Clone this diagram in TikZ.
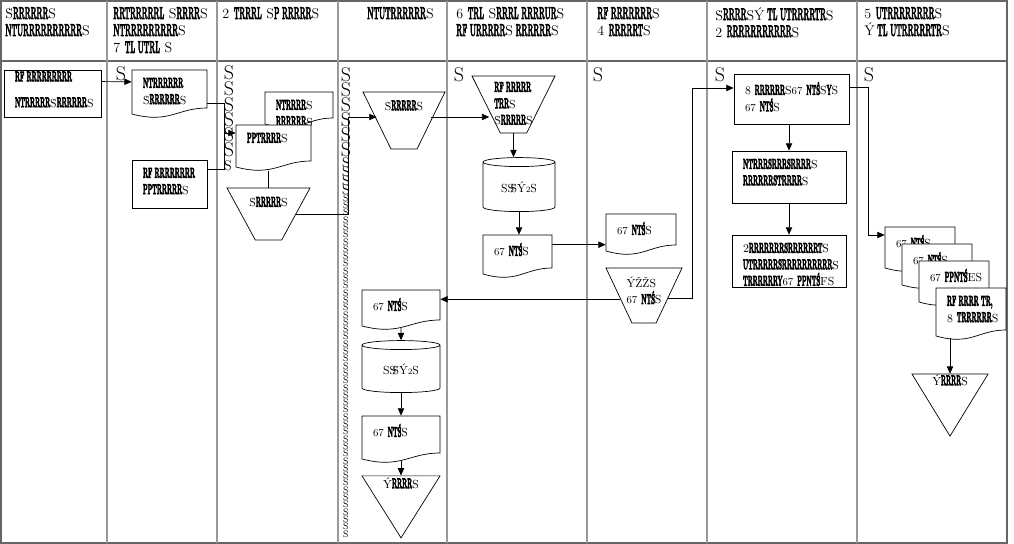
\documentclass[tikz,border=0pt]{standalone}
\usepackage{graphicx}
\usetikzlibrary{shapes.geometric,arrows.meta,calc}

\newcommand\g[1]{\scalebox{0.5}[1.2]{\special{pdf:literal direct 2 Tr 0.6 w}\bfseries #1\special{pdf:literal direct 0 Tr}}}
\newcommand\px{0.03cm}
\newcommand\nodefont{\fontsize{10}{14}\selectfont}
\newcommand\headfont{\fontsize{12}{14.5}\selectfont}
% document shape: name, centre x, centre y, width, height, text
\newcommand\docnode[6]{%
  \draw[fill=white] (#2-#4/2,#3-#5/2) -- (#2+#4/2,#3-#5/2) -- (#2+#4/2,#3+#5/2-10)
    .. controls (#2+#4/2-0.4*#4,#3+#5/2-10) and (#2-#4/2+0.5*#4,#3+#5/2+6) .. (#2-#4/2,#3+#5/2-4) -- cycle;
  \node[docbox, minimum width=#4*\px, minimum height=#5*\px, tl={#6}] (#1) at (#2,#3) {};}

\begin{document}
\begin{tikzpicture}[x=0.03cm, y=-0.03cm, line width=0.6pt,
  lane/.style={draw=black!40, line width=0.9pt},
  frame/.style={draw=black!60, line width=0.9pt},
  arr/.style={-{Triangle[length=0.22cm,width=0.19cm]}},
  box/.style={draw, rectangle, inner sep=0pt},
  docbox/.style={rectangle, inner sep=0pt},
  trap/.style={draw, trapezium, trapezium angle=75, shape border rotate=180, trapezium stretches=true, inner sep=2pt},
  cyl/.style={draw, cylinder, shape border rotate=90, aspect=0.25, inner sep=0pt, font=\nodefont},
  tri/.style={draw, isosceles triangle, isosceles triangle stretches, shape border rotate=270, inner sep=2pt},
  tl/.style={label={[anchor=north west, inner sep=0pt, align=left, font=\nodefont, xshift=0.33cm, yshift=-0.24cm]north west:{#1}}},
  tx/.style 2 args={label={[inner sep=0pt, align=left, font=\nodefont, yshift=#1*\px]center:{#2}}},
  head/.style={anchor=north west, inner sep=0pt, align=left, font=\headfont},
  bigS/.style={inner sep=0pt, font=\fontsize{17}{17}\selectfont},
  midS/.style={inner sep=0pt, font=\fontsize{12}{12}\selectfont},
  smallS/.style={inner sep=0pt, font=\fontsize{8}{8}\selectfont},
]
\useasboundingbox (0,0) rectangle (1014,544);

% lanes
\draw[frame] (1,1) rectangle (1007,543);
\draw[frame] (1,61) -- (1007,61);
\foreach \x in {107,217,338,447,587,707,857}
  \draw[lane] (\x,1) -- (\x,543);

% lane headings
\node[head] (h1) at (5,7) {\.S\g{RRRRRR}S\\\g{NTURRRRRRRRRR}S};
\node[head] (h2) at (113,7) {\g{RRTRRRRRL} S\g{RRRR}S\\\g{NTRRRRRRRRR}S\\7 \g{TL UTRL} S};
\node[head] (h3) at (222,7) {2 \g{TRRRL} S\g{P RRRRR}S};
\node[head] (h4) at (367,7) {\g{NTUTRRRRRR}S};
\node[head] (h5) at (456,7) {6 \g{TRL} S\g{RRRL RRRRUR}S\\\g{RF URRRRR}S\g{ RRRRRR}S};
\node[head] (h6) at (597,7) {\g{RF RRRRRRR}S\\4 \g{RRRRRT}S};
\node[head] (h7) at (715,7) {\.S\g{RRRR}S\'Y\g{ TL UTRRRRTR}S\\2 \g{RRRRRRRRRRR}S};
\node[head] (h8) at (864,7) {5 \g{UTRRRRRRRR}S\\\'Y\g{ TL UTRRRRRTR}S};

% stray marks
\node[bigS] (m2) at (121,74) {S};
\node[bigS] (m5) at (459,75) {S};
\node[bigS] (m6) at (598,75) {S};
\node[bigS] (m7) at (720,75) {S};
\node[bigS] (m8) at (869,75) {S};
\foreach \y [count=\i] in {73,89,105,120,135,150}
  \node[bigS] (sc\i) at (229,\y) {S};
\node[midS] (sc7) at (228,166) {S};
\foreach \y [count=\i] in {75,90,105,120,135,150}
  \node[bigS] (sd\i) at (346,\y) {S};
\foreach \y [count=\i] in {163,172,181,190}
  \node[midS] (se\i) at (346,\y) {S};
\foreach \i in {0,...,46}
  \node[smallS] (sf\i) at (346,198+7.3*\i) {S};

% lane 1 and 2
\node[box, minimum width=97*\px, minimum height=47*\px,
  label={[anchor=north west, inner sep=0pt, align=left, font=\nodefont, xshift=0.33cm, yshift=-0.05cm]north west:{\g{RF RRRRRRRRR}\\[8pt]\g{NTRRRRR}\.S\g{RRRRRR}S}}] (b1) at (52.5,93.5) {};
\docnode{d1}{169.5}{94}{75}{48}{\g{NTRRRRRR}\\\.S\g{RRRRRR}S}
\node[box, minimum width=75*\px, minimum height=48*\px, tl={\g{RF RRRRRRRR}\\\g{PPTRRRRR}S}] (b2) at (169.5,184) {};

% lane 3
\docnode{d2}{299}{110}{68}{36}{\g{NTRRRR}S\\\g{RRRRRR}S}
\docnode{d3}{273.5}{148}{75}{46}{\g{PPTRRRR}S}
\node[trap, minimum width=83*\px, minimum height=52*\px, tx={12}{\.S\g{RRRRR}S}] (t1) at (268.5,214) {\strut};

% lane 4
\node[trap, minimum width=82*\px, minimum height=57*\px, tx={15}{\.S\g{RRRRR}S}] (t2) at (404,120.5) {\strut};
\docnode{d6}{401}{310}{78}{40}{{\small 67} \g{NT\'S}S}
\node[cyl, minimum width=78*\px, minimum height=52*\px] (c2) at (401,369) {SS\kern-3pt\.S\'Y{\scriptsize 2}S};
\docnode{d7}{401}{439.5}{78}{47}{{\small 67} \g{NT\'S}S}
\node[tri, minimum width=78*\px, minimum height=62*\px, tx={16}{\'Y\g{RRRR}S}] (v1) at (401,499) {\strut};

% lane 5
\node[trap, minimum width=83*\px, minimum height=57*\px, tx={1}{\g{RF RRRRR}\\\g{TRR}S\\\.S\g{RRRRR}S}] (t3) at (513.5,104.5) {\strut};
\node[cyl, minimum width=72*\px, minimum height=54*\px] (c1) at (519,187) {SS\kern-3pt\.S\'Y{\scriptsize 2}S};
\docnode{d4}{517.5}{256.5}{69}{43}{{\small 67} \g{NT\'S}S}

% lane 6
\docnode{d5}{641}{234.5}{70}{41}{{\small 67} \g{NT\'S}S}
\node[trap, minimum width=76*\px, minimum height=55*\px, tx={5}{\'Y\v{Z}\v{Z}S\\{\small 67} \g{NT\'S}S}] (t4) at (644,295.5) {\strut};

% lane 7
\node[box, minimum width=115*\px, minimum height=50*\px, tl={8 \g{RRRRRR}S{\small 67} \g{NT\'S}S\g{Y}S\\{\small 67} \g{NT\'S}S}] (r1) at (791.5,99) {};
\node[box, minimum width=114*\px, minimum height=52*\px, tl={\g{NTRRRSRRRSRRRR}S\\\g{RRRRRRSTRRRR}S}] (r2) at (789,177) {};
\node[box, minimum width=114*\px, minimum height=52*\px, tl={2\g{RRRRRRRSRRRRRRT}S\\\g{UTRRRRRSRRRRRRRRRR}S\\\g{TRRRRRRY}{\small 67} \g{PPNT\'S}FS}] (r3) at (789,261) {};

% lane 8
\docnode{s1}{920}{249.5}{70}{45}{{\small 67} \g{NT\'S}S}
\docnode{s2}{937}{266.5}{70}{45}{{\small 67} \g{NT\'S}S}
\docnode{s3}{954}{283.5}{70}{45}{{\small 67} \g{PPNT\'S}ES}
\docnode{s4}{971}{314}{70}{52}{\g{RF RRRR TR,}\\8 \g{TRRRRRR}S}
\node[tri, minimum width=76*\px, minimum height=62*\px, tx={17}{\'Y\g{RRRR}S}] (v2) at (950,397) {\strut};

% connectors
\draw[arr] ($(b1.north east)!.25!(b1.south east)$) -- ($(d1.north west)!.25!(d1.south west)$);
\coordinate (j1) at (224,133);
\draw ($(d1.north east)!.7!(d1.south east)$) -| (j1);
\draw ($(b2.north east)!.2!(b2.south east)$) -| (j1);
\draw[arr] (j1) -- (j1 -| d3.west);
\draw (d3.south -| t1.north) -- (t1.north);
\coordinate (j2) at (348,117);
\draw[arr] (t1.east) -| (j2) -- (j2 -| t2.west);
\draw[arr] (j2 -| t2.east) -- ([xshift=3pt]j2 -| t3.west);
\draw[arr] (t3.south) -- (t3.south |- c1.north);
\draw[arr] (c1.south) -- (c1.south |- d4.north);
\coordinate (q1) at ($(d4.north east)!.23!(d4.south east)$);
\draw[arr] (q1) -- (q1 -| d5.west);
\draw[arr] (t4.189) -- (t4.189 -| d6.east);
\coordinate (j3) at (692,88);
\draw[arr] (t4.-7) -| (j3) -- (j3 -| r1.west);
\draw[arr] ([yshift=2pt]d6.south) -- (c2.north);
\draw[arr] (c2.south) -- (d7.north);
\draw[arr] ([yshift=2pt]d7.south) -- (v1.north);
\draw[arr] (r2.north |- r1.south) -- (r2.north);
\draw[arr] (r2.south) -- (r3.north);
\coordinate (j4) at (868,235);
\draw[arr] ($(r1.north east)!.28!(r1.south east)$) -| (j4) -- (j4 -| s1.west);
\draw[arr] ([yshift=2pt]v2.north |- s4.south) -- (v2.north);
\end{tikzpicture}
\end{document}
